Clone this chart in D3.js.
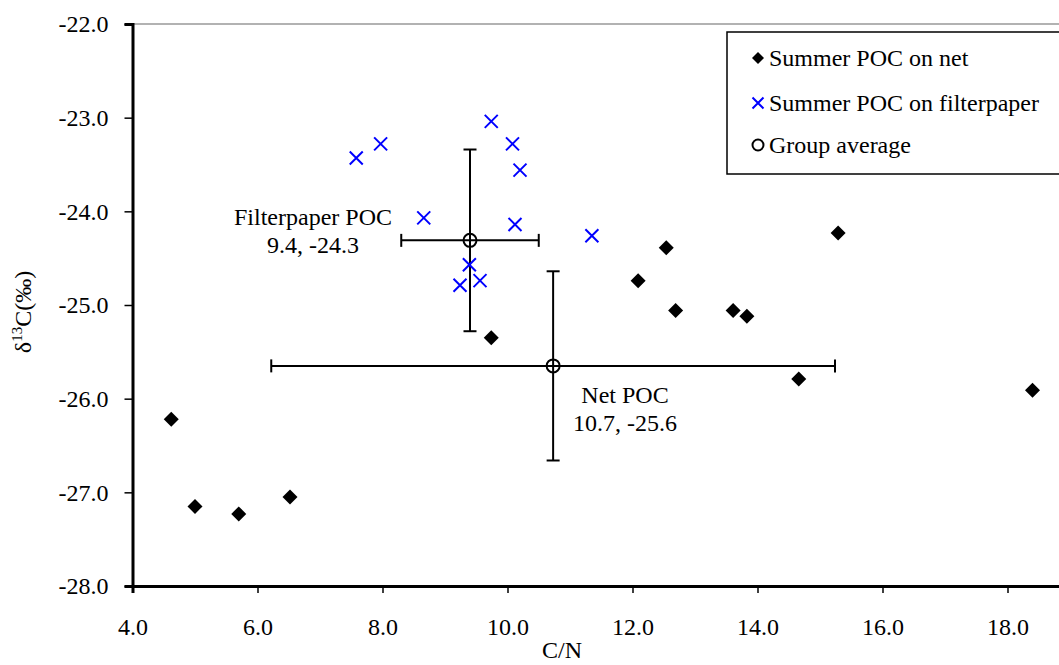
<!DOCTYPE html>
<html>
<head>
<meta charset="utf-8">
<script src="https://cdn.jsdelivr.net/npm/d3@7"></script>
<style>
  body { margin: 0; background: #fff; }
  svg text { font-family: "Liberation Serif", "Times New Roman", serif; fill: #000; }
</style>
</head>
<body>
<svg id="chart"></svg>
<script>
// data
const netCN = [4.62, 5.00, 5.70, 6.52, 9.74, 12.09, 12.54, 12.69, 13.61, 13.83, 14.66, 15.29, 18.40];
const netD13C = [-26.22, -27.15, -27.23, -27.05, -25.35, -24.74, -24.39, -25.06, -25.06, -25.12, -25.79, -24.23, -25.91];

const filterCN = [7.58, 7.97, 9.74, 10.08, 10.20, 8.66, 10.12, 11.35, 9.39, 9.24, 9.56];
const filterD13C = [-23.43, -23.28, -23.04, -23.28, -23.56, -24.07, -24.14, -24.26, -24.57, -24.79, -24.74];

const groupNames = ["Filterpaper POC", "Net POC"];
const groupCN = [9.40, 10.73];
const groupD13C = [-24.31, -25.65];
const groupErrCN = [1.10, 4.51];
const groupErrD13C = [0.97, 1.01];
const groupLabels = ["9.4, -24.3", "10.7, -25.6"];

const xTicks = [4, 6, 8, 10, 12, 14, 16, 18];
const yTicks = [-28, -27, -26, -25, -24, -23, -22];
const legendNames = ["Summer POC on net", "Summer POC on filterpaper", "Group average"];

// constants
const width = 1059;
const height = 665;
const margin = { left: 132.5, top: 24, bottom: 79 };
const pxPerUnit = 62.5;
const serif = '"Liberation Serif", "Times New Roman", serif';

const svg = d3.select('svg#chart').attr('width', width).attr('height', height);

const x = d3.scaleLinear().domain([4, 20]).range([margin.left, margin.left + 16 * pxPerUnit]);
const y = d3.scaleLinear().domain([-28, -22]).range([height - margin.bottom, margin.top]);

// plain hyphen like the original, not the unicode minus
const fmt = d => d3.format(".1f")(d).replace("\u2212", "-");

// top frame line (grey)
svg.append("line")
    .attr("x1", x(4)).attr("x2", x(20))
    .attr("y1", y(-22)).attr("y2", y(-22))
    .attr("stroke", "#999").attr("stroke-width", 1.5);

// axes
const xAxis = svg.append("g")
    .attr("transform", "translate(0," + y(-28) + ")")
    .call(d3.axisBottom(x).tickValues(xTicks).tickFormat(fmt).tickSize(7).tickPadding(25));
xAxis.attr("font-family", null).attr("font-size", null);
xAxis.select(".domain").attr("stroke-width", 3);
xAxis.selectAll(".tick line").attr("stroke-width", 1.5);
xAxis.selectAll("text").style("font-size", "24px").style("font-family", serif).attr("fill", "#000");

const yAxis = svg.append("g")
    .attr("transform", "translate(" + x(4) + ",0)")
    .call(d3.axisLeft(y).tickValues(yTicks).tickFormat(fmt).tickSize(8).tickPadding(16));
yAxis.attr("font-family", null).attr("font-size", null);
yAxis.select(".domain").attr("stroke-width", 3);
yAxis.selectAll(".tick line").attr("stroke-width", 1.5);
yAxis.selectAll("text").style("font-size", "24px").style("font-family", serif).attr("fill", "#000");

// axis titles
svg.append("text")
    .attr("x", 562).attr("y", 658)
    .attr("text-anchor", "middle")
    .attr("font-size", 24)
    .text("C/N");

const yTitle = svg.append("text")
    .attr("transform", "translate(31,312) rotate(-90)")
    .attr("text-anchor", "middle")
    .attr("font-size", 24);
yTitle.append("tspan").text("δ");
yTitle.append("tspan").attr("font-size", 15).attr("dy", -9).text("13");
yTitle.append("tspan").attr("dy", 9).text("C(‰)");

// symbols
const diamond = (cx, cy, s) => `M${cx},${cy - s}L${cx + s},${cy}L${cx},${cy + s}L${cx - s},${cy}Z`;
const cross = (cx, cy, s) => `M${cx - s},${cy - s}L${cx + s},${cy + s}M${cx - s},${cy + s}L${cx + s},${cy - s}`;

// error bars
const gErr = svg.append("g").attr("stroke", "#000").attr("stroke-width", 2).attr("fill", "none");
groupCN.forEach((cx, i) => {
  const cy = groupD13C[i];
  const ex = groupErrCN[i], ey = groupErrD13C[i];
  const cap = 6.5;
  gErr.append("line").attr("x1", x(cx - ex)).attr("x2", x(cx + ex)).attr("y1", y(cy)).attr("y2", y(cy));
  gErr.append("line").attr("x1", x(cx)).attr("x2", x(cx)).attr("y1", y(cy - ey)).attr("y2", y(cy + ey));
  [cx - ex, cx + ex].forEach(v => gErr.append("line")
      .attr("x1", x(v)).attr("x2", x(v)).attr("y1", y(cy) - cap).attr("y2", y(cy) + cap));
  [cy - ey, cy + ey].forEach(v => gErr.append("line")
      .attr("x1", x(cx) - cap).attr("x2", x(cx) + cap).attr("y1", y(v)).attr("y2", y(v)));
});

// net POC diamonds
svg.append("g")
  .selectAll("path")
  .data(netCN)
  .join("path")
    .attr("d", (d, i) => diamond(x(d), y(netD13C[i]), 7.5))
    .attr("fill", "#000");

// filterpaper crosses
svg.append("g")
    .attr("stroke", "#0000ff")
    .attr("stroke-width", 2)
  .selectAll("path")
  .data(filterCN)
  .join("path")
    .attr("d", (d, i) => cross(x(d), y(filterD13C[i]), 6.5));

// group averages
svg.append("g")
  .selectAll("circle")
  .data(groupCN)
  .join("circle")
    .attr("cx", d => x(d))
    .attr("cy", (d, i) => y(groupD13C[i]))
    .attr("r", 6.5)
    .attr("fill", "none")
    .attr("stroke", "#000")
    .attr("stroke-width", 2);

// group annotations
const annoPos = [[313, 225], [625, 403]];
groupNames.forEach((name, i) => {
  const t = svg.append("text")
      .attr("x", annoPos[i][0]).attr("y", annoPos[i][1])
      .attr("text-anchor", "middle")
      .attr("font-size", 24);
  t.append("tspan").attr("x", annoPos[i][0]).text(name);
  t.append("tspan").attr("x", annoPos[i][0]).attr("dy", 28).text(groupLabels[i]);
});

// legend
const legend = svg.append("g");
legend.append("rect")
    .attr("x", 727).attr("y", 32)
    .attr("width", 400).attr("height", 142)
    .attr("fill", "#fff")
    .attr("stroke", "#000").attr("stroke-width", 1.5);

const legendY = [58, 103, 145];
legend.append("path").attr("d", diamond(758, legendY[0], 6)).attr("fill", "#000");
legend.append("path").attr("d", cross(758, legendY[1], 5.5)).attr("stroke", "#0000ff").attr("stroke-width", 2);
legend.append("circle").attr("cx", 758).attr("cy", legendY[2]).attr("r", 5.5)
    .attr("fill", "none").attr("stroke", "#000").attr("stroke-width", 2);

legend.selectAll("text.lg")
  .data(legendNames)
  .join("text")
    .attr("class", "lg")
    .attr("x", 769)
    .attr("y", (d, i) => legendY[i] + 8)
    .attr("font-size", 24)
    .text(d => d);
</script>
</body>
</html>
